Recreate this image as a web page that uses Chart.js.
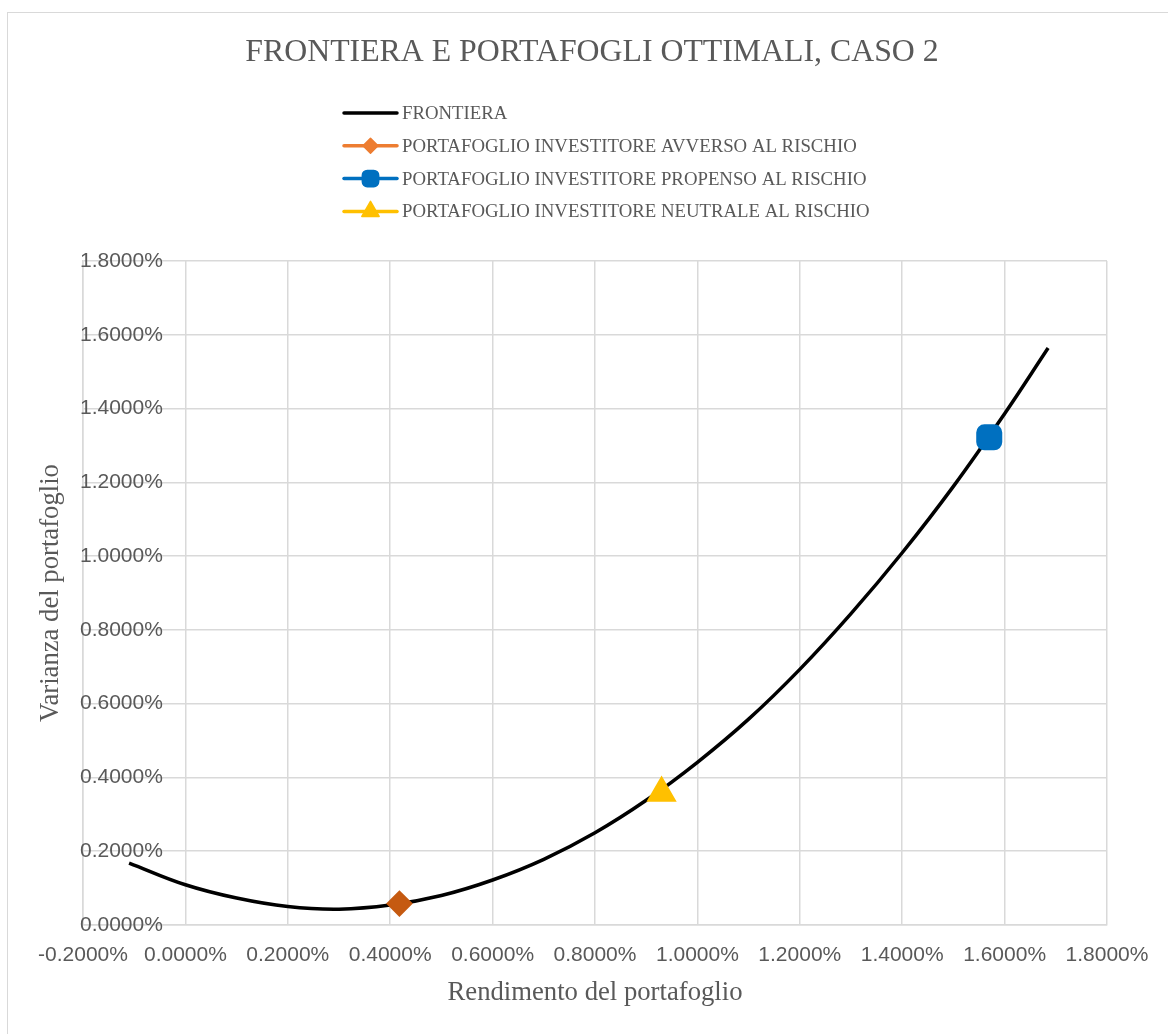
<!DOCTYPE html>
<html>
<head>
<meta charset="utf-8">
<script src="https://cdn.jsdelivr.net/npm/chart.js@4.4.1/dist/chart.umd.min.js"></script>
<style>
  html, body { margin: 0; padding: 0; background: #fff; overflow: hidden; }
  #frame { position: absolute; left: 7px; top: 12px; width: 1168px; height: 1040px; border: 1px solid #d9d9d9; }
  #wrap { position: absolute; left: 0; top: 0; width: 1184px; height: 1034px; }
</style>
</head>
<body>
<div id="frame"></div>
<div id="wrap"><canvas id="myChart"></canvas></div>
<script>
// frontier: return (%) vs variance (%)
const frontierX = [-0.11, 0.0, 0.1, 0.2, 0.3, 0.4, 0.5, 0.6, 0.7, 0.8, 0.9, 1.0, 1.1, 1.2, 1.3, 1.4, 1.5, 1.6, 1.685];
const frontierY = [0.168, 0.109, 0.073, 0.050, 0.043, 0.054, 0.080, 0.122, 0.178, 0.250, 0.338, 0.441, 0.558, 0.693, 0.844, 1.009, 1.189, 1.386, 1.564];

// optimal portfolios
const avversoX = [0.418];
const avversoY = [0.058];
const propensoX = [1.570];
const propensoY = [1.322];
const neutraleX = [0.930];
const neutraleY = [0.358];

const seriesLabels = [
    'FRONTIERA',
    'PORTAFOGLIO INVESTITORE AVVERSO AL RISCHIO',
    'PORTAFOGLIO INVESTITORE PROPENSO AL RISCHIO',
    'PORTAFOGLIO INVESTITORE NEUTRALE AL RISCHIO'
];

const xMin = -0.2, xMax = 1.8, yMin = 0, yMax = 1.8, step = 0.2;

const toPoints = (xs, ys) => xs.map((x, i) => ({ x: x, y: ys[i] }));
const pct = v => (Math.abs(v) < 1e-9 ? 0 : v).toFixed(4) + '%';

const GRID = '#d9d9d9';
const TEXT = '#595959';
const SERIF = '"Liberation Serif", "Times New Roman", serif';
const SANS = '"Liberation Sans", Arial, sans-serif';

// legend drawn as a single column above the plot, like the original
const columnLegend = {
    id: 'columnLegend',
    afterDraw(chart) {
        const ctx = chart.ctx;
        const x0 = 344, x1 = 397, y0 = 113, row = 32.8;
        chart.data.datasets.forEach((ds, i) => {
            const y = y0 + i * row;
            ctx.save();
            ctx.strokeStyle = ds.borderColor;
            ctx.lineWidth = 3.5;
            ctx.lineCap = 'round';
            ctx.beginPath();
            ctx.moveTo(x0, y);
            ctx.lineTo(x1, y);
            ctx.stroke();
            if (ds.legendMarker) {
                ctx.fillStyle = ds.borderColor;
                ctx.strokeStyle = ds.borderColor;
                ctx.lineWidth = 1.5;
                ctx.lineJoin = 'round';
                Chart.helpers.drawPoint(ctx, {
                    pointStyle: ds.pointStyle,
                    radius: ds.legendMarker,
                    rotation: 0,
                    borderWidth: 1.5
                }, (x0 + x1) / 2, y);
            }
            ctx.fillStyle = TEXT;
            ctx.font = '18.8px ' + SERIF;
            ctx.textBaseline = 'middle';
            ctx.textAlign = 'left';
            ctx.fillText(ds.label, 402, y + 1);
            ctx.restore();
        });
    }
};

const data = {
    datasets: [{
        label: seriesLabels[0],
        data: toPoints(frontierX, frontierY),
        showLine: true,
        borderColor: '#000000',
        borderWidth: 3.5,
        pointRadius: 0,
        tension: 0.4,
        order: 3
    }, {
        label: seriesLabels[1],
        data: toPoints(avversoX, avversoY),
        borderColor: '#ED7D31',
        pointStyle: 'rectRot',
        pointRadius: 12,
        pointBackgroundColor: '#C55A11',
        pointBorderColor: '#C55A11',
        pointBorderWidth: 2,
        legendMarker: 7.5,
        order: 0
    }, {
        label: seriesLabels[2],
        data: toPoints(propensoX, propensoY),
        borderColor: '#0070C0',
        pointStyle: 'rectRounded',
        pointRadius: 14,
        pointBackgroundColor: '#0070C0',
        pointBorderColor: '#0070C0',
        pointBorderWidth: 2,
        legendMarker: 9.5,
        order: 0
    }, {
        label: seriesLabels[3],
        data: toPoints(neutraleX, neutraleY),
        borderColor: '#FFC000',
        pointStyle: 'triangle',
        pointRadius: 15.5,
        pointBackgroundColor: '#FFC000',
        pointBorderColor: '#FFC000',
        pointBorderWidth: 2,
        legendMarker: 10,
        order: 0
    }]
};

const config = {
    type: 'scatter',
    data: data,
    options: {
        responsive: true,
        maintainAspectRatio: false,
        animation: false,
        events: [],
        layout: {
            padding: { left: 8, right: 8, top: 13, bottom: 0 }
        },
        plugins: {
            legend: { display: false },
            tooltip: { enabled: false },
            title: {
                display: true,
                text: 'FRONTIERA E PORTAFOGLI OTTIMALI, CASO 2',
                color: TEXT,
                font: { family: SERIF, size: 31.8, weight: 'normal' },
                padding: { top: 20.4, bottom: 189.4 }
            }
        },
        scales: {
            x: {
                type: 'linear',
                position: 'bottom',
                min: xMin,
                max: xMax,
                afterFit: s => { s.height = 109; },
                ticks: {
                    stepSize: step,
                    callback: v => pct(v),
                    color: TEXT,
                    padding: 18,
                    maxRotation: 0,
                    font: { family: SANS, size: 21 }
                },
                grid: { color: GRID, lineWidth: 1.5, drawTicks: false },
                border: { color: GRID, width: 1.5 },
                title: {
                    display: true,
                    text: 'Rendimento del portafoglio',
                    color: TEXT,
                    font: { family: SERIF, size: 26.7 },
                    padding: { top: 0, bottom: 25 }
                }
            },
            y: {
                type: 'linear',
                position: 'left',
                min: yMin,
                max: yMax,
                afterFit: s => { s.width = 75; },
                ticks: {
                    stepSize: step,
                    callback: v => pct(v),
                    color: TEXT,
                    mirror: true,
                    crossAlign: 'far',
                    padding: -3,
                    font: { family: SANS, size: 21 }
                },
                grid: { color: GRID, lineWidth: 1.5, drawTicks: false },
                border: { color: GRID, width: 1.5 },
                title: {
                    display: true,
                    text: 'Varianza del portafoglio',
                    color: TEXT,
                    font: { family: SERIF, size: 26.7 },
                    padding: { top: 27, bottom: 0 }
                }
            },
            // empty right-hand box, keeps the plot clear of the frame edge
            yRight: {
                type: 'linear',
                position: 'right',
                display: false,
                afterFit: s => { s.width = 69; }
            }
        }
    },
    plugins: [columnLegend]
};

const myChart = new Chart(document.getElementById('myChart'), config);
</script>
</body>
</html>
